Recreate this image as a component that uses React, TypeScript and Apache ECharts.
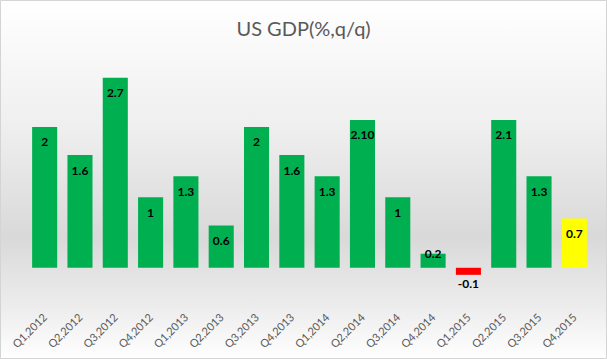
import React, { useEffect, useRef } from "react";
import * as echarts from "echarts";

const categories = [
  "Q1,2012", "Q2,2012", "Q3,2012", "Q4,2012",
  "Q1,2013", "Q2,2013", "Q3,2013", "Q4,2013",
  "Q1,2014", "Q2,2014", "Q3,2014", "Q4,2014",
  "Q1,2015", "Q2,2015", "Q3,2015", "Q4,2015",
];
const values = [2, 1.6, 2.7, 1, 1.3, 0.6, 2, 1.6, 1.3, 2.1, 1, 0.2, -0.1, 2.1, 1.3, 0.7];
const valueLabels = ["2", "1.6", "2.7", "1", "1.3", "0.6", "2", "1.6", "1.3", "2.10", "1", "0.2", "-0.1", "2.1", "1.3", "0.7"];
const barColors = [
  "#00b050", "#00b050", "#00b050", "#00b050",
  "#00b050", "#00b050", "#00b050", "#00b050",
  "#00b050", "#00b050", "#00b050", "#00b050",
  "#ff0000", "#00b050", "#00b050", "#ffff00",
];

export default function App() {
  const ref = useRef<HTMLDivElement>(null);
  useEffect(() => {
    if (!ref.current) return;
    const chart = echarts.init(ref.current, undefined, { renderer: "svg" });
    const data = values.map((v, i) => {
      const item: any = { value: v, itemStyle: { color: barColors[i] } };
      if (v < 0) {
        item.label = { position: "bottom", distance: 3 };
      } else if (v < 0.4) {
        item.label = { position: "top", distance: -6 };
      }
      return item;
    });
    chart.setOption({
      animation: false,
      backgroundColor: new echarts.graphic.LinearGradient(0, 0, 0, 1, [
        { offset: 0, color: "#ffffff" },
        { offset: 0.35, color: "#efefef" },
        { offset: 0.66, color: "#d9d9d9" },
        { offset: 0.85, color: "#ececec" },
        { offset: 1, color: "#ffffff" },
      ]),
      title: {
        text: "US GDP(%,q/q)",
        left: "center",
        top: 13,
        textStyle: { fontFamily: "Lato", fontSize: 20, fontWeight: "normal", color: "#595959" },
      },
      graphic: [
        {
          type: "rect",
          shape: { x: 0.5, y: 0.5, width: 606, height: 358 },
          style: { fill: "none", stroke: "#d4d4d4", lineWidth: 1 },
          silent: true,
          z: 100,
        },
      ],
      grid: { left: 27, right: 15, top: 56.5, bottom: 56, containLabel: false },
      xAxis: {
        type: "category",
        data: categories,
        axisLine: { show: false },
        axisTick: { show: false },
        axisLabel: {
          rotate: 45,
          interval: 0,
          margin: 12,
          fontFamily: "Lato",
          fontSize: 11,
          color: "#595959",
        },
      },
      yAxis: {
        type: "value",
        min: -0.5,
        max: 3,
        show: false,
        splitLine: { show: false },
      },
      series: [
        {
          type: "bar",
          data,
          barCategoryGap: "29%",
          label: {
            show: true,
            position: "insideTop",
            distance: 9,
            fontFamily: "Lato",
            fontSize: 12,
            fontWeight: "bold",
            color: "#000000",
            formatter: (p: any) => valueLabels[p.dataIndex],
          },
        },
      ],
    });
    return () => chart.dispose();
  }, []);
  return (
    <div
      ref={ref}
      style={{ position: "absolute", left: 0, top: 0, width: 607, height: 359 }}
    />
  );
}
